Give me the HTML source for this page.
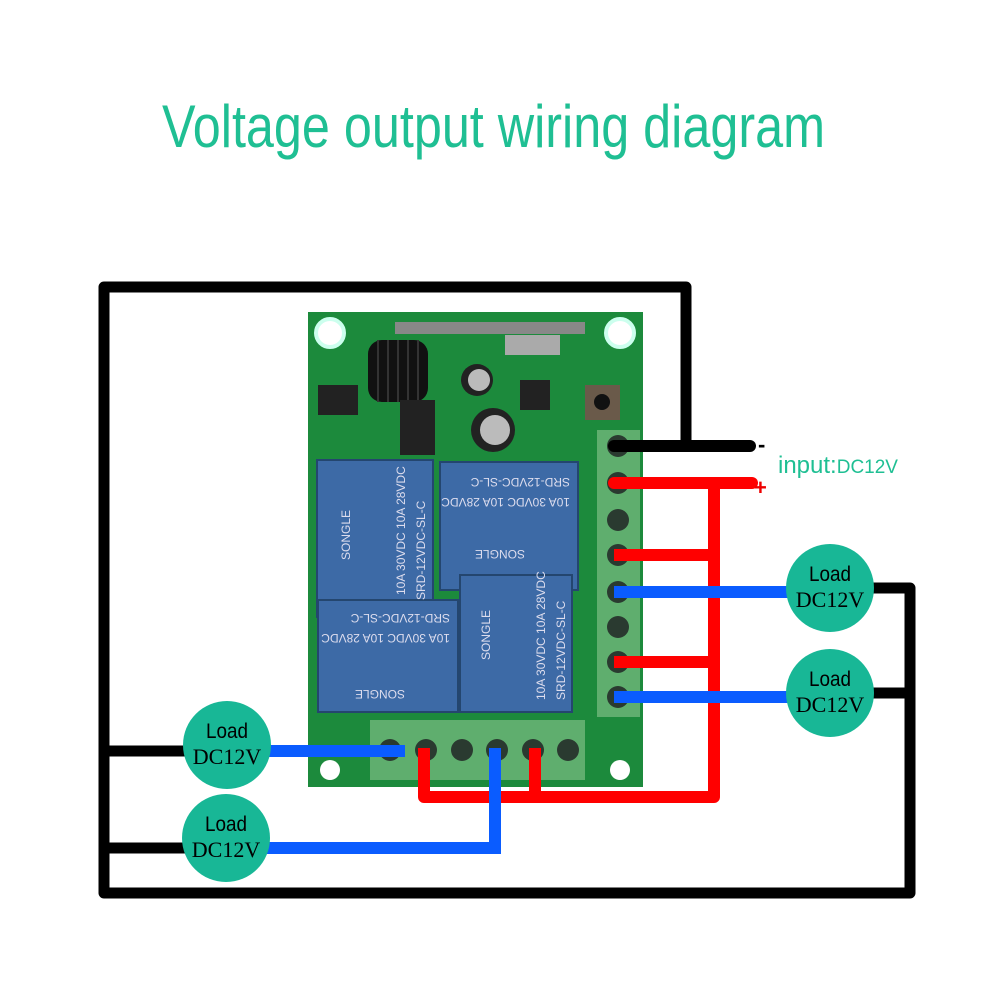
<!DOCTYPE html>
<html><head><style>
html,body{margin:0;padding:0;background:#fff;}
svg{display:block;}
</style></head><body>
<svg width="1001" height="1001" viewBox="0 0 1001 1001" xmlns="http://www.w3.org/2000/svg">
<rect width="1001" height="1001" fill="#fff"/>
<text x="162" y="147" font-family="Liberation Sans, sans-serif" font-size="60" fill="#1fbf93" textLength="663" lengthAdjust="spacingAndGlyphs">Voltage output wiring diagram</text>

<g stroke="#000" stroke-width="11" fill="none" stroke-linejoin="round">
<path d="M686 448 V287 H104 V893 H910 V588 H860"/>
<path d="M910 693 H860"/>
<path d="M104 751 H190"/>
<path d="M104 848 H190"/>
</g>

<rect x="308" y="312" width="335" height="475" fill="#1c8a3c"/>
<circle cx="330" cy="333" r="14" fill="#fff" stroke="#cfe" stroke-width="4"/>
<circle cx="620" cy="333" r="14" fill="#fff" stroke="#cfe" stroke-width="4"/>
<circle cx="330" cy="770" r="10" fill="#fff"/>
<circle cx="620" cy="770" r="10" fill="#fff"/>
<rect x="368" y="340" width="60" height="62" rx="14" fill="#111"/>
<g stroke="#333" stroke-width="2"><path d="M378 340 V402 M388 340 V402 M398 340 V402 M408 340 V402 M418 340 V402"/></g>
<rect x="395" y="322" width="190" height="12" fill="#888"/>
<rect x="505" y="335" width="55" height="20" fill="#aaa"/>
<circle cx="477" cy="380" r="16" fill="#222"/><circle cx="479" cy="380" r="11" fill="#bbb"/>
<circle cx="493" cy="430" r="22" fill="#222"/><circle cx="495" cy="430" r="15" fill="#bbb"/>
<rect x="585" y="385" width="35" height="35" fill="#6a5a4a"/><circle cx="602" cy="402" r="8" fill="#111"/>
<rect x="318" y="385" width="40" height="30" fill="#222"/>
<rect x="400" y="400" width="35" height="55" fill="#222"/>
<rect x="520" y="380" width="30" height="30" fill="#222"/>

<g fill="#3d6aa6" stroke="#24466f" stroke-width="2">
<rect x="317" y="460" width="116" height="157"/>
<rect x="440" y="462" width="138" height="128"/>
<rect x="318" y="600" width="140" height="112"/>
<rect x="460" y="575" width="112" height="137"/>
</g>
<g font-family="Liberation Sans, sans-serif" font-size="12" fill="#dde">
<text transform="translate(425,600) rotate(-90)">SRD-12VDC-SL-C</text>
<text transform="translate(405,595) rotate(-90)">10A 30VDC 10A 28VDC</text>
<text transform="translate(350,560) rotate(-90)">SONGLE</text>
<text transform="translate(570,478) rotate(180)">SRD-12VDC-SL-C</text>
<text transform="translate(570,498) rotate(180)">10A 30VDC 10A 28VDC</text>
<text transform="translate(525,550) rotate(180)">SONGLE</text>
<text transform="translate(450,614) rotate(180)">SRD-12VDC-SL-C</text>
<text transform="translate(450,634) rotate(180)">10A 30VDC 10A 28VDC</text>
<text transform="translate(405,690) rotate(180)">SONGLE</text>
<text transform="translate(565,700) rotate(-90)">SRD-12VDC-SL-C</text>
<text transform="translate(545,700) rotate(-90)">10A 30VDC 10A 28VDC</text>
<text transform="translate(490,660) rotate(-90)">SONGLE</text>
</g>

<rect x="597" y="430" width="43" height="287" fill="#5fae6e"/>
<g fill="#2a3a30">
<circle cx="618" cy="446" r="11"/><circle cx="618" cy="483" r="11"/><circle cx="618" cy="520" r="11"/><circle cx="618" cy="555" r="11"/>
<circle cx="618" cy="592" r="11"/><circle cx="618" cy="627" r="11"/><circle cx="618" cy="662" r="11"/><circle cx="618" cy="697" r="11"/>
</g>
<rect x="370" y="720" width="215" height="60" fill="#5fae6e"/>
<g fill="#2a3a30">
<circle cx="390" cy="750" r="11"/><circle cx="426" cy="750" r="11"/><circle cx="462" cy="750" r="11"/>
<circle cx="497" cy="750" r="11"/><circle cx="533" cy="750" r="11"/><circle cx="568" cy="750" r="11"/>
</g>

<g stroke="#ff0000" stroke-width="12" fill="none" stroke-linejoin="round">
<path d="M614 483 H752" stroke-linecap="round"/>
<path d="M714 483 V797 H424 V748"/>
<path d="M535 748 V797"/>
<path d="M614 555 H714"/>
<path d="M614 662 H714"/>
</g>
<path d="M614 446 H750" stroke="#000" stroke-width="12" stroke-linecap="round"/>

<g stroke="#0a5cff" stroke-width="12" fill="none">
<path d="M614 592 H800"/>
<path d="M614 697 H800"/>
<path d="M260 751 H405"/>
<path d="M495 748 V848 H260"/>
</g>

<text x="758" y="452" font-family="Liberation Sans, sans-serif" font-size="22" font-weight="bold" fill="#000">-</text>
<text x="754" y="495" font-family="Liberation Sans, sans-serif" font-size="22" font-weight="bold" fill="#e00">+</text>
<text x="778" y="473" font-family="Liberation Sans, sans-serif" font-size="24" fill="#1fbf93">input:<tspan font-size="19">DC12V</tspan></text>

<g fill="#18b796">
<circle cx="830" cy="588" r="44"/>
<circle cx="830" cy="693" r="44"/>
<circle cx="227" cy="745" r="44"/>
<circle cx="226" cy="838" r="44"/>
</g>
<g fill="#000" text-anchor="middle">
<g font-family="Liberation Sans, sans-serif" font-size="21">
<text x="830" y="581" textLength="42" lengthAdjust="spacingAndGlyphs">Load</text>
<text x="830" y="686" textLength="42" lengthAdjust="spacingAndGlyphs">Load</text>
<text x="227" y="738" textLength="42" lengthAdjust="spacingAndGlyphs">Load</text>
<text x="226" y="831" textLength="42" lengthAdjust="spacingAndGlyphs">Load</text>
</g>
<g font-family="Liberation Serif, serif" font-size="22">
<text x="830" y="607">DC12V</text>
<text x="830" y="712">DC12V</text>
<text x="227" y="764">DC12V</text>
<text x="226" y="857">DC12V</text>
</g>
</g>
</svg>
</body></html>
